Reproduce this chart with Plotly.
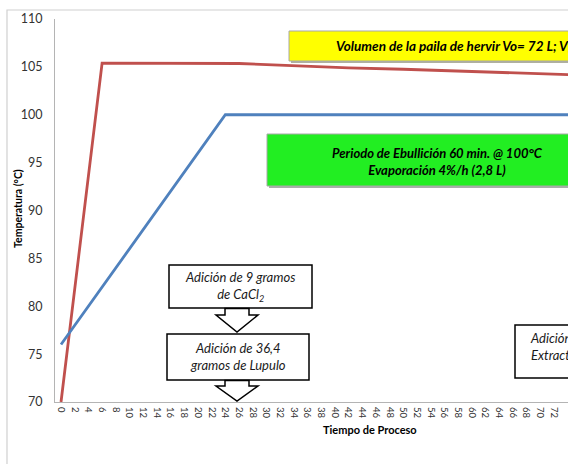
import plotly.graph_objects as go

# Time (min) and temperature (°C) series
tiempo_rojo = [0, 6, 26, 34, 42, 50, 58, 66, 74, 78]
temp_rojo = [70, 105.4, 105.35, 105.1, 104.9, 104.75, 104.55, 104.35, 104.2, 104.1]

tiempo_azul = [0, 6, 24, 40, 60, 78]
temp_azul = [76, 82, 100, 100, 100, 100]

x_ticks = list(range(0, 76, 2))
x_tick_text = [str(v) for v in x_ticks]
y_ticks = [70, 75, 80, 85, 90, 95, 100, 105, 110]

W, H = 568, 464
L, R, T, B = 55, 0, 19, 62
PW, PH = W - L - R, H - T - B


def px(x):
    return (x - L) / PW


def py(y):
    return (H - B - y) / PH


FONT = "Lato"

fig = go.Figure()
fig.add_trace(go.Scatter(x=tiempo_rojo, y=temp_rojo, mode="lines",
                         line=dict(color="#C0504D", width=2.8), showlegend=False))
fig.add_trace(go.Scatter(x=tiempo_azul, y=temp_azul, mode="lines",
                         line=dict(color="#4F81BD", width=2.8), showlegend=False))

shapes = []
# outer chart frame
shapes.append(dict(type="path", xref="paper", yref="paper",
                   path=f"M {px(7)},{py(470)} L {px(7)},{py(10)} L {px(600)},{py(10)}",
                   line=dict(color="#d0d0d0", width=1.2)))


def rect(x0, y0, x1, y1, fill, line_color, lw=1.5):
    shapes.append(dict(type="rect", xref="paper", yref="paper",
                       x0=px(x0), x1=px(x1), y0=py(y1), y1=py(y0),
                       fillcolor=fill, line=dict(color=line_color, width=lw)))


# yellow and green labels with soft shadow
rect(291, 33, 640, 63, "#b0b0a0", "rgba(0,0,0,0)", 0)
rect(289, 31, 638, 61, "#FFFF00", "#a8a8a8", 1)
rect(269, 136, 608, 188, "#a8b0a8", "rgba(0,0,0,0)", 0)
rect(267, 134, 606, 186, "#22EE22", "#a8a8a8", 1)

# white callout boxes
rect(169, 265, 312, 308, "white", "black")
rect(167, 334, 309, 380, "white", "black")
rect(515, 325, 640, 378, "white", "black")


def arrow(cx, y_top, y_neck, y_tip, shaft=12, head=21):
    pts = [(cx - shaft, y_top), (cx - shaft, y_neck), (cx - head, y_neck), (cx, y_tip),
           (cx + head, y_neck), (cx + shaft, y_neck), (cx + shaft, y_top)]
    d = "M " + " L ".join(f"{px(a)},{py(b)}" for a, b in pts) + " Z"
    shapes.append(dict(type="path", xref="paper", yref="paper", path=d,
                       fillcolor="white", line=dict(color="black", width=1.5)))


arrow(237, 308.5, 315, 332)
arrow(237, 380.5, 386, 401)

ann = []


def text(x, y, s, size=12, anchor="center", color="#1a1a1a"):
    ann.append(dict(xref="paper", yref="paper", x=px(x), y=py(y), text=s,
                    showarrow=False, xanchor=anchor, yanchor="middle",
                    align=anchor if anchor != "center" else "center",
                    font=dict(family=FONT, size=size, color=color)))


text(334, 46, "<b><i>Volumen de la paila de hervir Vo= 72 L; Vf= 69,2 L</i></b>", 13.5, "left", "black")
text(437, 161, "<b><i>Periodo de Ebullición 60 min. @ 100°C<br>Evaporación 4%/h (2,8 L)</i></b>", 13, "center", "black")
text(240, 286, "<i>Adición de 9 gramos<br>de CaCl<sub>2</sub></i>", 13)
text(238, 356, "<i>Adición de 36,4<br>gramos de Lupulo</i>", 13)
text(528, 346, "<i>Adición de<br>Extracto de</i>", 13, "left")

# axis titles
ann.append(dict(xref="paper", yref="paper", x=px(370), y=py(430), text="<b>Tiempo de Proceso</b>",
                showarrow=False, xanchor="center", yanchor="middle",
                font=dict(family=FONT, size=11, color="black")))
ann.append(dict(xref="paper", yref="paper", x=px(18), y=py(209), text="<b>Temperatura (°C)</b>",
                showarrow=False, xanchor="center", yanchor="middle", textangle=-90,
                font=dict(family=FONT, size=10.5, color="black")))

fig.update_layout(
    width=W, height=H,
    margin=dict(l=L, r=R, t=T, b=B),
    paper_bgcolor="white", plot_bgcolor="white",
    shapes=shapes, annotations=ann,
    xaxis=dict(range=[-0.88, 74.05], tickmode="array", tickvals=x_ticks, ticktext=x_tick_text,
               tickangle=90, showgrid=False, zeroline=False, showline=True,
               linecolor="#b4b4b4", linewidth=1.2, ticks="", ticklabelstandoff=2,
               tickfont=dict(family=FONT, size=9.5, color="#333333")),
    yaxis=dict(range=[70, 110], tickmode="array", tickvals=y_ticks, showgrid=False,
               zeroline=False, showline=True, linecolor="#b4b4b4", linewidth=1.2,
               ticks="", ticklabelstandoff=9,
               tickfont=dict(family=FONT, size=12.5, color="#333333")),
)

fig.write_html("out.html")
